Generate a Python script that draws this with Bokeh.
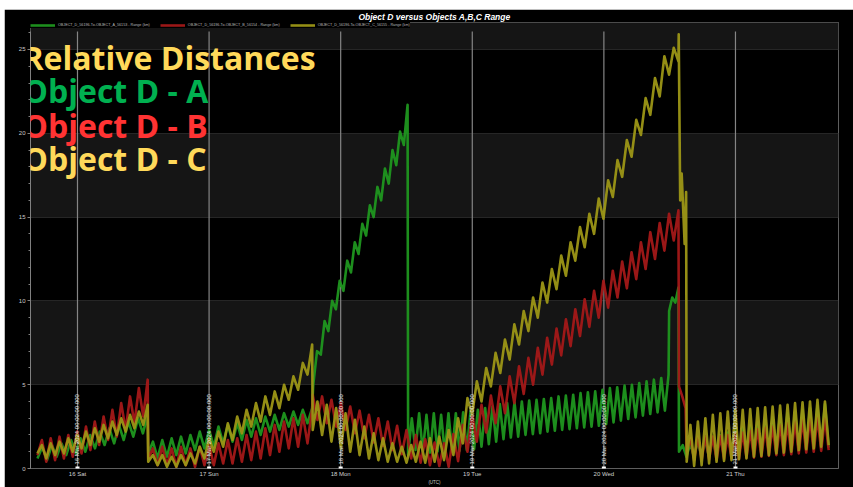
import math
import numpy as np
from bokeh.plotting import figure
from bokeh.models import Range1d, Label, Legend, LegendItem, FixedTicker, DatetimeTickFormatter
from bokeh.core.properties import value
from bokeh.embed import file_html
from bokeh.resources import INLINE

# ---------------- data (hours after 2024-03-15 00:00 UTC, range in km) ----------------
BASE_MS = float(np.datetime64("2024-03-15T00:00").astype("datetime64[ms]").astype(np.int64))

A_BOUNDS = [(16.7, 36.8), (36.9, 66.8), (67.0, 84.2), (84.3, 131.8), (131.9, 133.6), (133.7, 161.0)]
A1 = [0.6,1.3,0.5,1.4,0.7,1.5,0.8,1.7,0.9,1.8,1.0,2.0,1.2,2.2,1.4,2.4,1.5,2.6,1.7,2.8,1.9,3.0,2.1,3.2]
A2 = [0.9,1.6,0.6,1.7,0.7,1.8,0.8,1.9,0.9,2.0,1.1,2.2,1.2,2.3,1.3,2.5,1.5,2.6,1.6,2.7,1.7,2.9,1.9,3.0,
      2.0,3.1,2.2,3.2,2.3,3.3,2.5,3.4,2.6,3.5,2.7,3.6]
A3 = [5.0,7.0,6.8,8.8,8.2,10.0,9.5,11.2,10.6,12.4,11.7,13.5,12.8,14.6,13.9,15.7,15.0,16.8,16.0,17.9,
      17.0,19.0,18.1,20.1,19.3,21.7]
A4 = [0.8,3.0,1.1,3.3,1.0,3.2,0.95,3.3,1.0,3.2,0.95,3.3,1.0,3.3,1.05,3.35,1.1,3.4,1.15,3.5,
      1.3,3.6,1.45,3.7,1.6,3.85,1.75,3.9,1.85,3.95,1.9,4.0,2.0,4.05,2.05,4.1,2.1,4.15,2.2,4.2,
      2.25,4.3,2.3,4.35,2.35,4.4,2.4,4.5,2.45,4.55,2.5,4.6,2.55,4.7,2.65,4.8,2.75,4.85,2.85,4.95,
      2.95,5.0,3.05,5.1,3.15,5.2,3.25,5.3,3.35,5.4,3.45,5.6]
A5 = [9.4,10.2,9.9,10.8]
A6 = [1.0,1.4,0.7,1.5,0.7,1.6,0.75,1.7,0.7,1.85,0.75,2.0,0.75,2.15,0.8,2.3,0.8,2.45,0.85,2.6,
      0.85,2.75,0.9,2.9,0.9,3.05,0.95,3.2,1.0,3.3,1.0,3.4,1.05,3.5,1.1,3.6,1.15,3.75,1.2,3.85,1.25]
A_VALUES = [A1, A2, A3, A4, A5, A6]

B_BOUNDS = [(16.7, 36.8), (36.9, 66.8), (66.9, 133.6), (133.7, 134.9), (135.1, 161.0)]
B1 = [0.8,1.7,0.4,1.8,0.5,1.9,0.6,2.0,0.7,2.2,0.9,2.5,1.1,2.8,1.4,3.1,1.7,3.5,1.9,3.9,2.3,4.3,2.7,4.8,3.1,5.3]
B2 = [0.6,1.2,0.2,1.3,0.2,1.2,0.1,1.3,0.2,1.2,0.1,1.3,0.2,1.4,0.2,1.5,0.3,1.7,0.3,1.8,0.4,2.0,0.5,2.2,
      0.6,2.4,0.8,2.6,1.0,2.8,1.2,3.0,1.3,3.2,1.5,3.6]
B3 = [4.4,2.9,4.3,2.7,4.1,2.5,3.9,2.3,3.7,2.1,3.45,1.8,3.2,1.55,3.0,1.35,2.8,1.1,2.55,0.85,
      2.3,0.6,2.0,0.35,1.75,0.2,1.55,0.15,1.5,0.1,
      2.05,0.44,2.6,1.0,3.2,1.6,3.8,2.15,4.35,2.7,4.9,3.3,5.5,3.9,6.1,4.45,6.6,5.0,7.2,5.6,
      7.8,6.2,8.35,6.75,8.9,7.3,9.5,7.9,10.1,8.45,10.6,9.0,11.2,9.6,11.8,10.2,12.35,10.75,12.9,11.3,
      13.5,11.9,14.1,12.5,14.65,13.0,15.2,13.6,15.4]
B4 = [4.9,4.3,3.6]
B5 = [1.0,1.8,0.5,1.9,0.5,1.9,0.55,1.9,0.5,1.95,0.55,2.0,0.6,2.1,0.6,2.15,0.65,2.25,0.65,2.35,
      0.7,2.45,0.75,2.5,0.8,2.6,0.8,2.7,0.85,2.8,0.9,2.9,0.95,3.0,1.0,3.05,1.05,3.0,1.1]
B_VALUES = [B1, B2, B3, B4, B5]

C_BOUNDS = [(16.7, 36.8), (36.9, 66.8), (66.9, 133.6), (133.65, 135.0), (135.1, 161.0)]
C1 = [0.9,1.4,0.6,1.5,0.8,1.6,0.9,1.8,1.0,2.0,1.2,2.2,1.4,2.4,1.6,2.6,1.8,2.8,2.0,3.0,2.2,3.2,2.4,3.4,2.6,3.8]
C2 = [0.4,0.8,0.2,0.8,0.1,0.7,0.1,0.8,0.2,0.9,0.3,1.3,0.6,1.8,1.0,2.2,1.3,2.7,1.7,3.1,2.1,3.5,2.5,3.9,
      2.8,4.3,3.2,4.6,3.6,5.0,4.1,5.5,4.7,6.3,5.6,7.4]
C3 = [2.3,4.0,2.0,3.8,1.6,3.6,1.2,3.3,1.0,2.9,0.8,2.5,0.6,2.1,0.5,1.8,0.4,1.5,0.4,1.3,
      0.35,1.4,0.4,1.6,0.35,1.8,0.4,1.9,0.5,2.3,0.8,3.0,1.5,4.2,
      3.2,5.2,4.0,6.0,4.9,6.9,5.7,7.7,6.5,8.6,7.4,9.4,8.2,10.2,9.0,11.1,9.9,11.9,10.7,12.7,
      11.5,13.5,12.4,14.4,13.2,15.2,14.0,16.1,14.9,17.2,16.2,18.4,17.4,19.6,18.6,20.8,19.9,22.1,21.1,23.3,
      22.2,24.6,23.5,25.1,24.3]
C4 = [25.9,16.0,17.6,15.5,13.4,16.5]
C5 = [0.4,2.6,0.15,2.8,0.2,3.0,0.3,3.2,0.4,3.3,0.45,3.4,0.5,3.5,0.55,3.5,0.6,3.55,0.7,3.6,
      0.75,3.65,0.8,3.7,0.9,3.75,0.95,3.8,1.0,3.9,1.1,3.95,1.15,4.0,1.2,4.1,1.3,4.0,1.4]
C_VALUES = [C1, C2, C3, C4, C5]

SERIES_NAMES = ["OBJECT_D_56196-To-OBJECT_A_56153 - Range (km)",
                "OBJECT_D_56196-To-OBJECT_B_56154 - Range (km)",
                "OBJECT_D_56196-To-OBJECT_C_56155 - Range (km)"]
TITLE = "Object D versus Objects A,B,C Range"
X_AXIS_LABEL = "(UTC)"
DAY_TICKS_H = [24, 48, 72, 96, 120, 144]
DAY_LINE_TEXT = ["16 Mar 2024 00:00:00.000", "17 Mar 2024 00:00:00.000", "18 Mar 2024 00:00:00.000",
                 "19 Mar 2024 00:00:00.000", "20 Mar 2024 00:00:00.000", "21 Mar 2024 00:00:00.000"]
Y_TICKS = [0, 5, 10, 15, 20, 25]
Y_MINOR = list(range(0, 27))
OVERLAY_TEXT = ["Relative Distances", "Object D - A", "Object D - B", "Object D - C"]

# ---------------- layout / style ----------------
OX, OY = 4, 9                  # white page strip left / top (screen px)
W, H = 853 - OX, 487 - OY
X_START_H, X_END_H = 15.43, 162.79
Y_FRAME_TOP = 26.61
Y_PLOT_TOP = 26.07
PXH = 5.483   # px per hour
PXK = 16.8    # px per km
FRAME_L, FRAME_R, FRAME_T, FRAME_B = 30, 838, 22, 469   # in screen px

GREEN, RED, YELLOW = "#1f961f", "#a31818", "#9c9616"


def ms(h):
    return BASE_MS + h * 3600000.0


def series_xy(bounds, vals):
    xs, ys = [], []
    for (t0, t1), v in zip(bounds, vals):
        n = len(v)
        for i, y in enumerate(v):
            t = t0 + (t1 - t0) * i / (n - 1) if n > 1 else t0
            xs.append(ms(t))
            ys.append(y)
    return xs, ys


def lx(sx):
    return ms(X_START_H + (sx - FRAME_L) / PXH)


def ly(sy):
    return (FRAME_B - sy) / PXK


p = figure(width=W, height=H, output_backend="svg", toolbar_location=None,
           x_axis_type="datetime", title=TITLE,
           x_range=Range1d(ms(X_START_H), ms(X_END_H)), y_range=Range1d(0, Y_FRAME_TOP),
           background_fill_color="#000000", border_fill_color="#000000",
           min_border_left=FRAME_L - OX, min_border_right=853 - FRAME_R,
           min_border_top=FRAME_T - OY, min_border_bottom=487 - FRAME_B,
           styles={"margin-top": f"{OY}px", "margin-left": f"{OX}px"})
p.outline_line_color = "#5e5e5e"
p.outline_line_width = 1

p.title.align = "center"
p.title.text_color = "#ffffff"
p.title.text_font = "Liberation Sans"
p.title.text_font_style = "bold italic"
p.title.text_font_size = "8.5px"
p.title.standoff = 1

# grid bands
p.xgrid.visible = False
p.ygrid.ticker = FixedTicker(ticks=Y_TICKS)
p.ygrid.grid_line_color = "#262626"
p.ygrid.band_fill_color = "#151515"
p.ygrid.band_fill_alpha = 1.0

# y axis
p.yaxis.ticker = FixedTicker(ticks=Y_TICKS, minor_ticks=Y_MINOR)
p.yaxis.bounds = (0, Y_PLOT_TOP)
p.yaxis.axis_line_color = "#808080"
p.yaxis.major_tick_line_color = "#808080"
p.yaxis.minor_tick_line_color = "#808080"
p.yaxis.major_tick_out = 3
p.yaxis.major_tick_in = 0
p.yaxis.minor_tick_out = 2
p.yaxis.minor_tick_in = 0
p.yaxis.major_label_text_font_size = "6px"
p.yaxis.major_label_text_color = "#c8c8c8"
p.yaxis.major_label_text_font = "Liberation Sans"
p.yaxis.major_label_standoff = 2

# x axis
day_ms = [ms(h) for h in DAY_TICKS_H]
p.xaxis.ticker = FixedTicker(ticks=day_ms)
p.xaxis.formatter = DatetimeTickFormatter(days="%d %a", hours="%d %a", months="%d %a", hourmin="%d %a")
p.xaxis.axis_line_color = None
p.xaxis.major_tick_line_color = None
p.xaxis.minor_tick_line_color = None
p.xaxis.major_tick_out = 0
p.xaxis.major_tick_in = 0
p.xaxis.minor_tick_out = 0
p.xaxis.major_label_text_font_size = "6px"
p.xaxis.major_label_text_color = "#d0d0d0"
p.xaxis.major_label_text_font = "Liberation Sans"
p.xaxis.major_label_standoff = 2
p.xaxis.axis_label = X_AXIS_LABEL
p.xaxis.axis_label_text_font = "Liberation Sans"
p.xaxis.axis_label_text_font_style = "normal"
p.xaxis.axis_label_text_font_size = "4.5px"
p.xaxis.axis_label_text_color = "#c8c8c8"
p.xaxis.axis_label_standoff = 0

# day lines
p.segment(x0=day_ms, y0=[0] * len(day_ms), x1=day_ms, y1=[Y_PLOT_TOP] * len(day_ms),
          line_color="#858585", line_width=1.2)

xa, ya = series_xy(A_BOUNDS, A_VALUES)
xb, yb = series_xy(B_BOUNDS, B_VALUES)
xc, yc = series_xy(C_BOUNDS, C_VALUES)
ra = p.line(xa, ya, line_color=GREEN, line_width=2.6, line_alpha=0.95, line_join="round")
rb = p.line(xb, yb, line_color=RED, line_width=2.6, line_alpha=0.95, line_join="round")
rc = p.line(xc, yc, line_color=YELLOW, line_width=2.6, line_alpha=0.95, line_join="round")

p.text(x=day_ms, y=[0] * len(day_ms), text=DAY_LINE_TEXT, angle=math.pi / 2,
       text_font=value("Liberation Sans"), text_font_size="6px", text_color="#e6e6e6",
       text_align="left", text_baseline="middle", y_offset=-4)
p.scatter(x=day_ms, y=[0] * len(day_ms), marker="square", size=4, fill_color="#ffffff", line_color=None)

leg = Legend(items=[LegendItem(label=SERIES_NAMES[0], renderers=[ra]),
                    LegendItem(label=SERIES_NAMES[1], renderers=[rb]),
                    LegendItem(label=SERIES_NAMES[2], renderers=[rc])],
             location="top_left", orientation="horizontal", margin=0, padding=1, spacing=10,
             glyph_width=25, glyph_height=6, label_height=6, label_standoff=3,
             label_text_font="Liberation Sans", label_text_font_size="3.7px", label_text_color="#b8b8b8",
             background_fill_color="#000000", background_fill_alpha=1.0, border_line_color=None)
p.add_layout(leg)

# overlay texts (anchor positions in screen px)
overlay_colors = ["#FFD95A", "#00B050", "#FF3333", "#FFD95A"]
overlay_anchor_sy = [57.5, 90.5, 125.5, 158.5]
for txt, col, sy in zip(OVERLAY_TEXT, overlay_colors, overlay_anchor_sy):
    p.add_layout(Label(x=lx(22), y=ly(sy), text=txt, text_color=col, text_font="Open Sans",
                       text_font_style="bold", text_font_size="32px", text_baseline="alphabetic",
                       text_align="left"))

open("out.html", "w").write(file_html(p, INLINE))
